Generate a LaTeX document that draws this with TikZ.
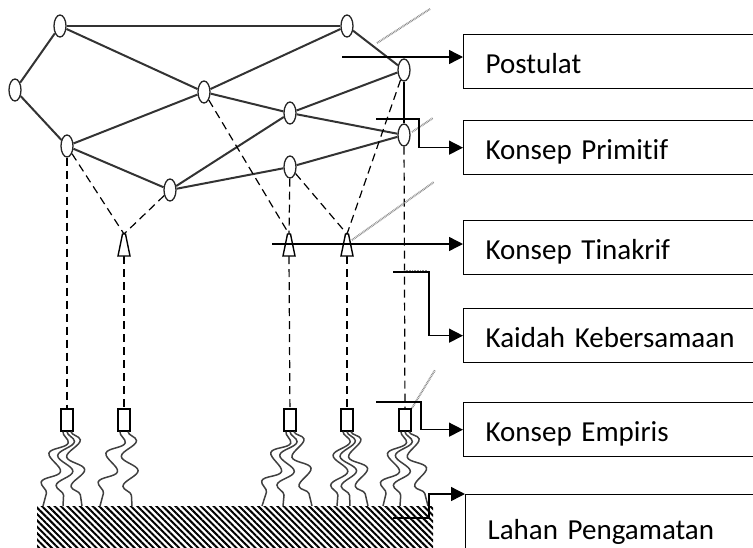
\documentclass[tikz,border=0pt]{standalone}
\usepackage{fontspec}
\setmainfont{Carlito}[Ligatures=NoCommon]
\usetikzlibrary{shapes.geometric,arrows.meta,decorations.pathmorphing,patterns.meta,calc}
\begin{document}
\begin{tikzpicture}[x=1pt,y=-1pt,
 vert/.style={ellipse,draw=black!85,line width=1.3pt,fill=white,minimum width=12pt,minimum height=22pt,inner sep=0pt},
 tri/.style={draw,line width=1.4pt,fill=white,line join=miter},
 sq/.style={rectangle,draw,line width=1.3pt,fill=white,minimum width=12pt,minimum height=22pt,inner sep=0pt},
 edge/.style={draw=black!80,line width=2pt},
 dsh/.style={draw=black,line width=1.2pt,dash pattern=on 8pt off 5pt},
 hatchline/.style={draw=black!45,line width=2pt,dash pattern=on 0.8pt off 0.8pt},
 arr/.style={draw=black,line width=1.4pt,-{Triangle[length=14pt,width=14pt]}},
 lbl/.style={rectangle,draw,line width=1.3pt,anchor=north west,minimum width=320pt,minimum height=54pt,text width=276pt,align=left,inner xsep=22pt,inner ysep=0pt,text height=30pt,text depth=6pt,font=\fontsize{29}{34}\selectfont},
 strand/.style={draw=black!75,line width=1.5pt,decorate,decoration={snake,segment length=30pt,amplitude=8pt}}
]
\useasboundingbox (0,0) rectangle (753,547);
\clip (0,0) rectangle (753,547);

% ground
\fill[pattern={Lines[angle=-45,distance=4.5pt,line width=2pt]}] (37,506) rectangle (433,547);

% vertices
\node[vert] (A) at (60,26) {};
\node[vert] (B) at (347,26) {};
\node[vert] (C) at (15,90) {};
\node[vert] (D) at (204,92) {};
\node[vert] (E) at (404,70) {};
\node[vert] (F) at (290,113) {};
\node[vert] (G) at (67,146) {};
\node[vert] (H) at (404,135) {};
\node[vert] (I) at (290,167) {};
\node[vert] (J) at (170,190) {};

% triangles (apex and base-centre coordinates)
\coordinate (T1) at (124,234); \coordinate (T1b) at (124,256);
\coordinate (T2) at (289,234); \coordinate (T2b) at (289,256);
\coordinate (T3) at (347,234); \coordinate (T3b) at (347,256);

% squares
\node[sq] (S1) at (67,420) {};
\node[sq] (S2) at (124,420) {};
\node[sq] (S3) at (290,420) {};
\node[sq] (S4) at (347,420) {};
\node[sq] (S5) at (405,420) {};

% solid edges
\foreach \a/\b in {A/B,A/C,A/D,B/D,B/E,C/G,G/D,G/J,J/F,F/E,D/F,F/H,J/I,I/H}
  \draw[edge] (\a) -- (\b);
\draw[draw=black,line width=1.3pt] (E) -- (H);

% dashed
\draw[dsh] (G) -- (S1);
\draw[dsh] (T1b) -- (S2);
\draw[dsh] (T2b) -- (S3);
\draw[dsh] (T3b) -- (S4);
\draw[dsh] (H) -- (S5);
\draw[dsh] (G) -- (T1);
\draw[dsh] (J) -- (T1);
\draw[dsh] (D) -- (T2);
\draw[dsh] (I) -- (T2);
\draw[dsh] (I) -- (T3);
\draw[dsh] (E) -- (T3);

% triangles drawn
\foreach \t in {T1,T2,T3}
  \draw[tri] ($(\t)+(-1.5,0)$) -- ++(3,0) -- ++(4.5,22) -- ++(-12,0) -- cycle;

% grey hatched lines
\coordinate (h1a) at (377,43); \coordinate (h1b) at (430,9);
\coordinate (h2a) at (412,132); \coordinate (h2b) at (433,118);
\coordinate (h3a) at (352,240); \coordinate (h3b) at (434,182);
\coordinate (h4a) at (412,408); \coordinate (h4b) at (435,370);
\coordinate (h5a) at (404,271); \coordinate (h5b) at (428,271);
\draw[hatchline] (h1a) -- (h1b);
\draw[hatchline] (h2a) -- (h2b);
\draw[hatchline] (h3a) -- (h3b);
\draw[hatchline] (h4a) -- (h4b);
\draw[hatchline] (h5a) -- (h5b);

% strands
\foreach \s/\e in {-4/43,0/63,4/82}{\draw[strand] ($(S1.south)+(\s,0)$) -- (\e,506);}
\foreach \s/\e in {-4/100,4/132}{\draw[strand] ($(S2.south)+(\s,0)$) -- (\e,506);}
\foreach \s/\e in {-4/262,0/283,4/312}{\draw[strand] ($(S3.south)+(\s,0)$) -- (\e,506);}
\foreach \s/\e in {-4/337,0/350,4/368}{\draw[strand] ($(S4.south)+(\s,0)$) -- (\e,506);}
\foreach \s/\e in {-4/383,0/400,4/428}{\draw[strand] ($(S5.south)+(\s,0)$) -- (\e,506);}

% label boxes
\node[lbl] (post) at (463,34) {Postulat};
\node[lbl] (prim) at (463,120) {Konsep Primitif};
\node[lbl] (tin) at (463,220) {Konsep Tinakrif};
\node[lbl] (kai) at (463,308) {Kaidah Kebersamaan};
\node[lbl] (emp) at (463,402) {Konsep Empiris};
\node[lbl,minimum height=66pt] (lah) at (465,494) {Lahan Pengamatan};

% arrows
\coordinate (p0) at (342,57);
\coordinate (k0) at (376,119);
\coordinate (t0) at (272,244);
\coordinate (c0) at (393,272);
\coordinate (e0) at (376,402);
\coordinate (l0) at (393,518);
\draw[arr] (p0) -- (p0 -| post.west);
\draw[arr] (k0) -- ++(43,0) |- (prim.west);
\draw[arr] (t0) -- (t0 -| tin.west);
\draw[arr] (c0) -- ++(36,0) |- (kai.west);
\draw[arr] (e0) -- ++(45,0) |- (emp.west);
\draw[arr] (l0) -- ++(36,0) |- (lah.north west);
\end{tikzpicture}
\end{document}
